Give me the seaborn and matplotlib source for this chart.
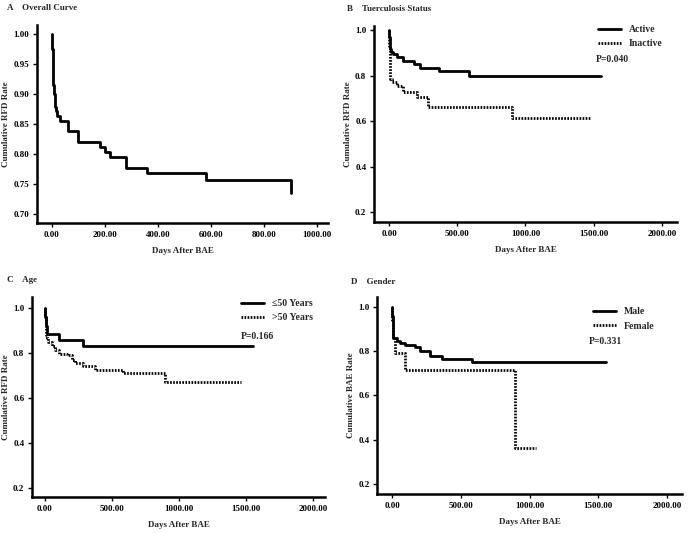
import numpy as np
import pandas as pd
import matplotlib
matplotlib.use("Agg")
import matplotlib.pyplot as plt
import seaborn as sns

# Kaplan-Meier style step data
# A - overall curve
a_days = [0, 1, 2, 3, 4, 5, 6, 8, 10, 12, 15, 20, 30, 60, 100, 180, 200, 220, 280, 360, 580, 900]
a_rate = [1.0, 0.99, 0.975, 0.96, 0.945, 0.93, 0.915, 0.90, 0.888, 0.878, 0.872, 0.864, 0.855,
          0.838, 0.82, 0.812, 0.803, 0.795, 0.777, 0.768, 0.756, 0.735]

# B - tuberculosis status
b_act_days = [0, 2, 4, 6, 9, 12, 30, 60, 105, 185, 225, 365, 585, 1556]
b_act_rate = [1.0, 0.97, 0.95, 0.93, 0.915, 0.905, 0.895, 0.88, 0.865, 0.85, 0.835, 0.82, 0.80, 0.80]
b_ina_days = [0, 2, 4, 7, 10, 24, 61, 105, 202, 285, 902, 1476]
b_ina_rate = [1.0, 0.93, 0.87, 0.82, 0.785, 0.772, 0.756, 0.729, 0.707, 0.66, 0.612, 0.612]

# C - age
c_le_days = [0, 3, 6, 12, 107, 286, 1553]
c_le_rate = [1.0, 0.96, 0.92, 0.885, 0.858, 0.83, 0.83]
c_gt_days = [0, 2, 4, 7, 10, 15, 25, 50, 75, 107, 161, 199, 224, 286, 373, 584, 894, 1466]
c_gt_rate = [1.0, 0.96, 0.93, 0.90, 0.88, 0.865, 0.849, 0.83, 0.812, 0.797, 0.79, 0.771, 0.757,
             0.743, 0.725, 0.711, 0.673, 0.673]

# D - gender
d_m_days = [0, 2, 4, 7, 10, 36, 61, 97, 170, 201, 274, 364, 582, 1556]
d_m_rate = [1.0, 0.96, 0.93, 0.90, 0.86, 0.847, 0.836, 0.829, 0.817, 0.80, 0.779, 0.767, 0.753, 0.753]
d_f_days = [0, 3, 6, 24, 97, 897, 1050]
d_f_rate = [1.0, 0.93, 0.866, 0.791, 0.716, 0.362, 0.362]

sns.set_style("white")
plt.rcParams['font.family'] = ['Liberation Serif', 'DejaVu Serif']
plt.rcParams['font.weight'] = 'bold'
plt.rcParams['axes.labelweight'] = 'bold'

SOLID = '-'
DOTTED = (0, (0.6, 0.5))
LW = 2.0
FS = 6.5
LFS = 7.0

fig = plt.figure(figsize=(6.88, 5.33), dpi=100)
ax_a = fig.add_axes([0.0538, 0.5816, 0.4229, 0.3715])
ax_b = fig.add_axes([0.5436, 0.5835, 0.4404, 0.3677])
ax_c = fig.add_axes([0.0465, 0.0675, 0.4259, 0.3752])
ax_d = fig.add_axes([0.548, 0.0732, 0.4433, 0.3696])


def km_line(ax, days, rate, ls, label=None):
    df = pd.DataFrame({'days': days, 'rate': rate})
    sns.lineplot(data=df, x='days', y='rate', ax=ax, color='black', linewidth=LW,
                 linestyle=ls, drawstyle='steps-post', estimator=None, label=label,
                 legend=False)


def style_axes(ax, ylabel, xlim, ylim, xticks, yticks, yfmt):
    ax.set_xlim(*xlim)
    ax.set_ylim(*ylim)
    ax.set_xticks(xticks)
    ax.set_xticklabels([f"{t:.2f}" for t in xticks], fontsize=FS, fontweight='bold')
    ax.set_yticks(yticks)
    ax.set_yticklabels([yfmt.format(t) for t in yticks], fontsize=FS, fontweight='bold')
    ax.set_xlabel('Days After BAE', fontsize=FS, fontweight='bold', labelpad=6)
    ax.set_ylabel(ylabel, fontsize=FS, fontweight='bold', labelpad=2.5)
    for s in ['top', 'right']:
        ax.spines[s].set_visible(False)
    for s in ['left', 'bottom']:
        ax.spines[s].set_linewidth(1.8)
        ax.spines[s].set_color('black')
    ax.tick_params(axis='both', direction='out', length=3, width=1, pad=2.5,
                   bottom=True, left=True, colors='black')


def legend(ax, loc_xy):
    leg = ax.legend(loc='upper left', bbox_to_anchor=loc_xy, frameon=False,
                    fontsize=LFS, handlelength=2.4, handletextpad=0.8,
                    labelspacing=0.55, borderaxespad=0, borderpad=0)
    return leg


# A
km_line(ax_a, a_days, a_rate, SOLID)
style_axes(ax_a, 'Cumulative RFD Rate', (-56, 1041), (0.685, 1.015),
           [0, 200, 400, 600, 800, 1000], [0.70, 0.75, 0.80, 0.85, 0.90, 0.95, 1.00], "{:.2f}")

# B
km_line(ax_b, b_act_days, b_act_rate, SOLID, 'Active')
km_line(ax_b, b_ina_days, b_ina_rate, DOTTED, 'Inactive')
style_axes(ax_b, 'Cumulative RFD Rate', (-110, 2110), (0.156, 1.018),
           [0, 500, 1000, 1500, 2000], [0.2, 0.4, 0.6, 0.8, 1.0], "{:.1f}")
legend(ax_b, (0.739, 1.005))
ax_b.text(0.733, 0.827, 'P=0.040', transform=ax_b.transAxes, fontsize=LFS,
          fontweight='bold', va='center')

# C
km_line(ax_c, c_le_days, c_le_rate, SOLID, '≤50 Years')
km_line(ax_c, c_gt_days, c_gt_rate, DOTTED, '>50 Years')
style_axes(ax_c, 'Cumulative RFD Rate', (-97, 2090), (0.16, 1.049),
           [0, 500, 1000, 1500, 2000], [0.2, 0.4, 0.6, 0.8, 1.0], "{:.1f}")
legend(ax_c, (0.713, 0.99))
ax_c.text(0.713, 0.805, 'P=0.166', transform=ax_c.transAxes, fontsize=LFS,
          fontweight='bold', va='center')

# D
km_line(ax_d, d_m_days, d_m_rate, SOLID, 'Male')
km_line(ax_d, d_f_days, d_f_rate, DOTTED, 'Female')
style_axes(ax_d, 'Cumulative BAE Rate', (-109, 2109), (0.155, 1.045),
           [0, 500, 1000, 1500, 2000], [0.2, 0.4, 0.6, 0.8, 1.0], "{:.1f}")
legend(ax_d, (0.708, 0.948))
ax_d.text(0.695, 0.772, 'P=0.331', transform=ax_d.transAxes, fontsize=LFS,
          fontweight='bold', va='center')

# panel titles
fig.text(7 / 688, 1 - 8 / 533, 'A    Overall Curve', fontsize=FS, fontweight='bold', va='center')
fig.text(347 / 688, 1 - 9 / 533, 'B    Tuerculosis Status', fontsize=FS, fontweight='bold', va='center')
fig.text(7 / 688, 1 - 280 / 533, 'C    Age', fontsize=FS, fontweight='bold', va='center')
fig.text(351 / 688, 1 - 282 / 533, 'D    Gender', fontsize=FS, fontweight='bold', va='center')

fig.savefig('out.png', dpi=100, facecolor='white')
